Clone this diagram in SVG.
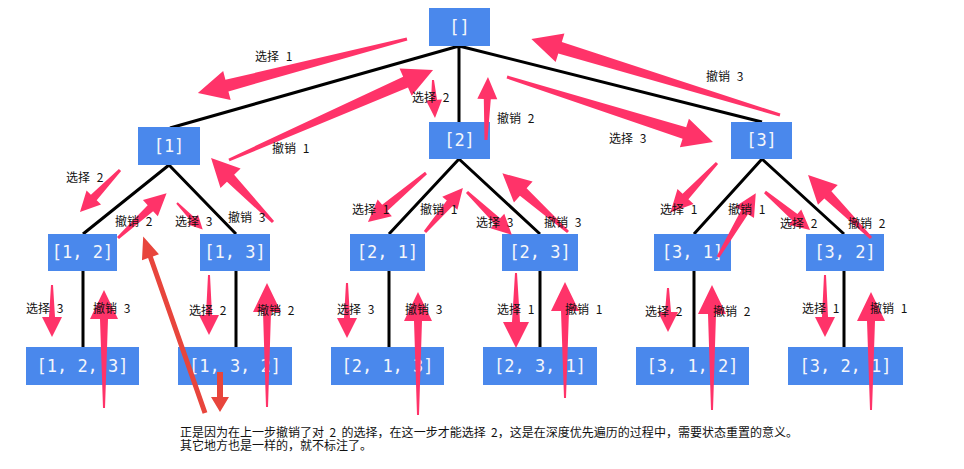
<svg xmlns="http://www.w3.org/2000/svg" width="964" height="469" viewBox="0 0 964 469">
<style>
.nd{fill:#4a88ec}
.nt{font-family:"DejaVu Sans Mono",monospace;font-size:17px;fill:#f4f6fb;text-anchor:middle}
.ln{stroke:#000;stroke-width:3;fill:none}
.pa{fill:#ff3369}
.ra{fill:#e8453c}
.lb{font-family:"Noto Sans CJK SC","Noto Sans",sans-serif;font-size:12px;fill:#111;word-spacing:4px}
.nt2{font-family:"Noto Sans CJK SC","Noto Sans",sans-serif;font-size:12px;fill:#111}
</style>
<rect width="964" height="469" fill="#fff"/>
<g id="connectors">
<path class="ln" d="M459,46 L170,128 M459,46 L459,122 M459,46 L762,122"/>
<path class="ln" d="M169,165 L83,234 M169,165 L236,234 M83,271 L83,347 M236,271 L236,347"/>
<path class="ln" d="M459,159 L389,234 M459,159 L540,234 M389,271 L389,347 M540,271 L540,347"/>
<path class="ln" d="M762,159 L694,234 M762,159 L844,234 M694,271 L694,347 M844,271 L844,347"/>
</g>
<g id="n0"><rect class="nd" x="429" y="8" width="61" height="38"/><text class="nt" x="459.5" y="33">[]</text></g>
<g id="n1"><rect class="nd" x="138" y="127" width="62" height="38"/><text class="nt" x="169" y="152">[1]</text></g>
<g id="n2"><rect class="nd" x="429" y="122" width="61" height="37"/><text class="nt" x="459.5" y="146">[2]</text></g>
<g id="n3"><rect class="nd" x="731" y="122" width="61" height="37"/><text class="nt" x="761.5" y="146">[3]</text></g>
<g id="n12"><rect class="nd" x="48" y="234" width="69" height="37"/><text class="nt" x="82.5" y="258">[1, 2]</text></g>
<g id="n13"><rect class="nd" x="200" y="234" width="70" height="37"/><text class="nt" x="235" y="258">[1, 3]</text></g>
<g id="n21"><rect class="nd" x="350" y="234" width="75" height="37"/><text class="nt" x="387.5" y="258">[2, 1]</text></g>
<g id="n23"><rect class="nd" x="502" y="234" width="76" height="37"/><text class="nt" x="540" y="258">[2, 3]</text></g>
<g id="n31"><rect class="nd" x="654" y="234" width="77" height="37"/><text class="nt" x="692.5" y="258">[3, 1]</text></g>
<g id="n32"><rect class="nd" x="806" y="234" width="78" height="37"/><text class="nt" x="845" y="258">[3, 2]</text></g>
<g id="n123"><rect class="nd" x="26" y="347" width="113" height="38"/><text class="nt" x="82.5" y="372">[1, 2, 3]</text></g>
<g id="n132"><rect class="nd" x="178" y="347" width="114" height="38"/><text class="nt" x="235" y="372">[1, 3, 2]</text></g>
<g id="n213"><rect class="nd" x="331" y="347" width="113" height="38"/><text class="nt" x="387.5" y="372">[2, 1, 3]</text></g>
<g id="n231"><rect class="nd" x="483" y="347" width="114" height="38"/><text class="nt" x="540" y="372">[2, 3, 1]</text></g>
<g id="n312"><rect class="nd" x="636" y="347" width="113" height="38"/><text class="nt" x="692.5" y="372">[3, 1, 2]</text></g>
<g id="n321"><rect class="nd" x="788" y="347" width="115" height="38"/><text class="nt" x="845.5" y="372">[3, 2, 1]</text></g>
<g id="arrows">
<path class="pa" transform="translate(407 39) rotate(165.5)" d="M0,-1.5 L186,-6 L186,-15 L216,0 L186,15 L186,6 L0,1.5Z"/>
<path class="pa" transform="translate(229 160) rotate(-23.8)" d="M0,-1.5 L193,-6 L193,-15 L223,0 L193,15 L193,6 L0,1.5Z"/>
<path class="pa" transform="translate(433 80) rotate(87)" d="M0,-1 L20,-3 L20,-8 L38,0 L20,8 L20,3 L0,1Z"/>
<path class="pa" transform="translate(486 140) rotate(-88.2)" d="M0,-1.5 L41,-3.5 L41,-10 L63,0 L41,10 L41,3.5 L0,1.5Z"/>
<path class="pa" transform="translate(507 77) rotate(17.5)" d="M0,-1.5 L186,-6 L186,-15 L216,0 L186,15 L186,6 L0,1.5Z"/>
<path class="pa" transform="translate(780 115) rotate(-163)" d="M0,-1.5 L230,-6 L230,-15 L260,0 L230,15 L230,6 L0,1.5Z"/>
<path class="pa" transform="translate(120 170) rotate(133.6)" d="M0,-1.5 L38,-4 L38,-10 L58,0 L38,10 L38,4 L0,1.5Z"/>
<path class="pa" transform="translate(118 238) rotate(-42.6)" d="M0,-1.5 L44,-4 L44,-11 L66,0 L44,11 L44,4 L0,1.5Z"/>
<path class="pa" transform="translate(177 203) rotate(46)" d="M0,-1 L23,-2.5 L23,-7 L37,0 L23,7 L23,2.5 L0,1Z"/>
<path class="pa" transform="translate(273 222) rotate(-134.1)" d="M0,-1.5 L61,-5 L61,-14 L89,0 L61,14 L61,5 L0,1.5Z"/>
<path class="pa" transform="translate(426 173) rotate(139.8)" d="M0,-1.5 L54,-4 L54,-11 L76,0 L54,11 L54,4 L0,1.5Z"/>
<path class="pa" transform="translate(425 232) rotate(-49.2)" d="M0,-1.5 L38,-4 L38,-10 L58,0 L38,10 L38,4 L0,1.5Z"/>
<path class="pa" transform="translate(467 192) rotate(43.7)" d="M0,-1.5 L42,-4 L42,-10 L62,0 L42,10 L42,4 L0,1.5Z"/>
<path class="pa" transform="translate(568 232) rotate(-138.2)" d="M0,-1.5 L60,-5 L60,-14 L88,0 L60,14 L60,5 L0,1.5Z"/>
<path class="pa" transform="translate(717 163) rotate(133.2)" d="M0,-1.5 L46,-4 L46,-11 L68,0 L46,11 L46,4 L0,1.5Z"/>
<path class="pa" transform="translate(718 257) rotate(-59.3)" d="M0,-1.5 L52,-4 L52,-11 L74,0 L52,11 L52,4 L0,1.5Z"/>
<path class="pa" transform="translate(765 192) rotate(40.2)" d="M0,-1.5 L39,-4 L39,-10 L59,0 L39,10 L39,4 L0,1.5Z"/>
<path class="pa" transform="translate(871 238) rotate(-135)" d="M0,-1.5 L61,-5 L61,-14 L89,0 L61,14 L61,5 L0,1.5Z"/>
<polygon class="pa" points="51,285 49,317 42,317 52,337 62,317 55,317 53,285"/>
<polygon class="pa" points="208,275 206,315 199,315 209,335 219,315 212,315 210,275"/>
<polygon class="pa" points="346,283 344,318 337,318 347,338 357,318 350,318 348,283"/>
<polygon class="pa" points="515,273 512,322 503,322 516,348 529,322 520,322 517,273"/>
<polygon class="pa" points="667,288 665,312 658,312 668,332 678,312 671,312 669,288"/>
<polygon class="pa" points="824,275 822,317 815,317 825,337 835,317 828,317 826,275"/>
<polygon class="pa" points="103,408 100,319 90,319 104,290 118,319 108,319 105,408"/>
<polygon class="pa" points="266,407 263,312 253,312 267,283 281,312 271,312 268,407"/>
<polygon class="pa" points="417,415 414,321 404,321 418,292 432,321 422,321 419,415"/>
<polygon class="pa" points="564,398 561,311 551,311 565,282 579,311 569,311 566,398"/>
<polygon class="pa" points="711,410 708,314 698,314 712,285 726,314 716,314 713,410"/>
<polygon class="pa" points="870,410 867,321 857,321 871,292 885,321 875,321 872,410"/>
<path class="ra" transform="translate(205 413) rotate(-109.3)" d="M0,-2.5 L165,-2.5 L165,-9 L187,0 L165,9 L165,2.5 L0,2.5Z"/>
<polygon class="ra" points="217,372 223,372 223,397 229,397 220,412 211,397 217,397"/>
</g>
<g id="labels">
<text class="lb" x="255" y="61">选择 1</text>
<text class="lb" x="272" y="153">撤销 1</text>
<text class="lb" x="412" y="102">选择 2</text>
<text class="lb" x="497" y="123">撤销 2</text>
<text class="lb" x="609" y="143">选择 3</text>
<text class="lb" x="706" y="81">撤销 3</text>
<text class="lb" x="66" y="182">选择 2</text>
<text class="lb" x="115" y="226">撤销 2</text>
<text class="lb" x="175" y="226">选择 3</text>
<text class="lb" x="228" y="222">撤销 3</text>
<text class="lb" x="26" y="313">选择 3</text>
<text class="lb" x="93" y="313">撤销 3</text>
<text class="lb" x="189" y="315">选择 2</text>
<text class="lb" x="257" y="315">撤销 2</text>
<text class="lb" x="352" y="214">选择 1</text>
<text class="lb" x="420" y="214">撤销 1</text>
<text class="lb" x="476" y="227">选择 3</text>
<text class="lb" x="544" y="227">撤销 3</text>
<text class="lb" x="337" y="314">选择 3</text>
<text class="lb" x="405" y="314">撤销 3</text>
<text class="lb" x="497" y="314">选择 1</text>
<text class="lb" x="565" y="314">撤销 1</text>
<text class="lb" x="660" y="214">选择 1</text>
<text class="lb" x="728" y="214">撤销 1</text>
<text class="lb" x="780" y="228">选择 2</text>
<text class="lb" x="848" y="228">撤销 2</text>
<text class="lb" x="645" y="316">选择 2</text>
<text class="lb" x="713" y="316">撤销 2</text>
<text class="lb" x="802" y="313">选择 1</text>
<text class="lb" x="870" y="313">撤销 1</text>
</g>
<g id="note">
<text class="nt2" xml:space="preserve"><tspan x="180" y="437" textLength="618" lengthAdjust="spacing">正是因为在上一步撤销了对  2  的选择，在这一步才能选择  2，这是在深度优先遍历的过程中，需要状态重置的意义。</tspan><tspan x="180" y="450">其它地方也是一样的，就不标注了。</tspan></text>
</g>
</svg>
